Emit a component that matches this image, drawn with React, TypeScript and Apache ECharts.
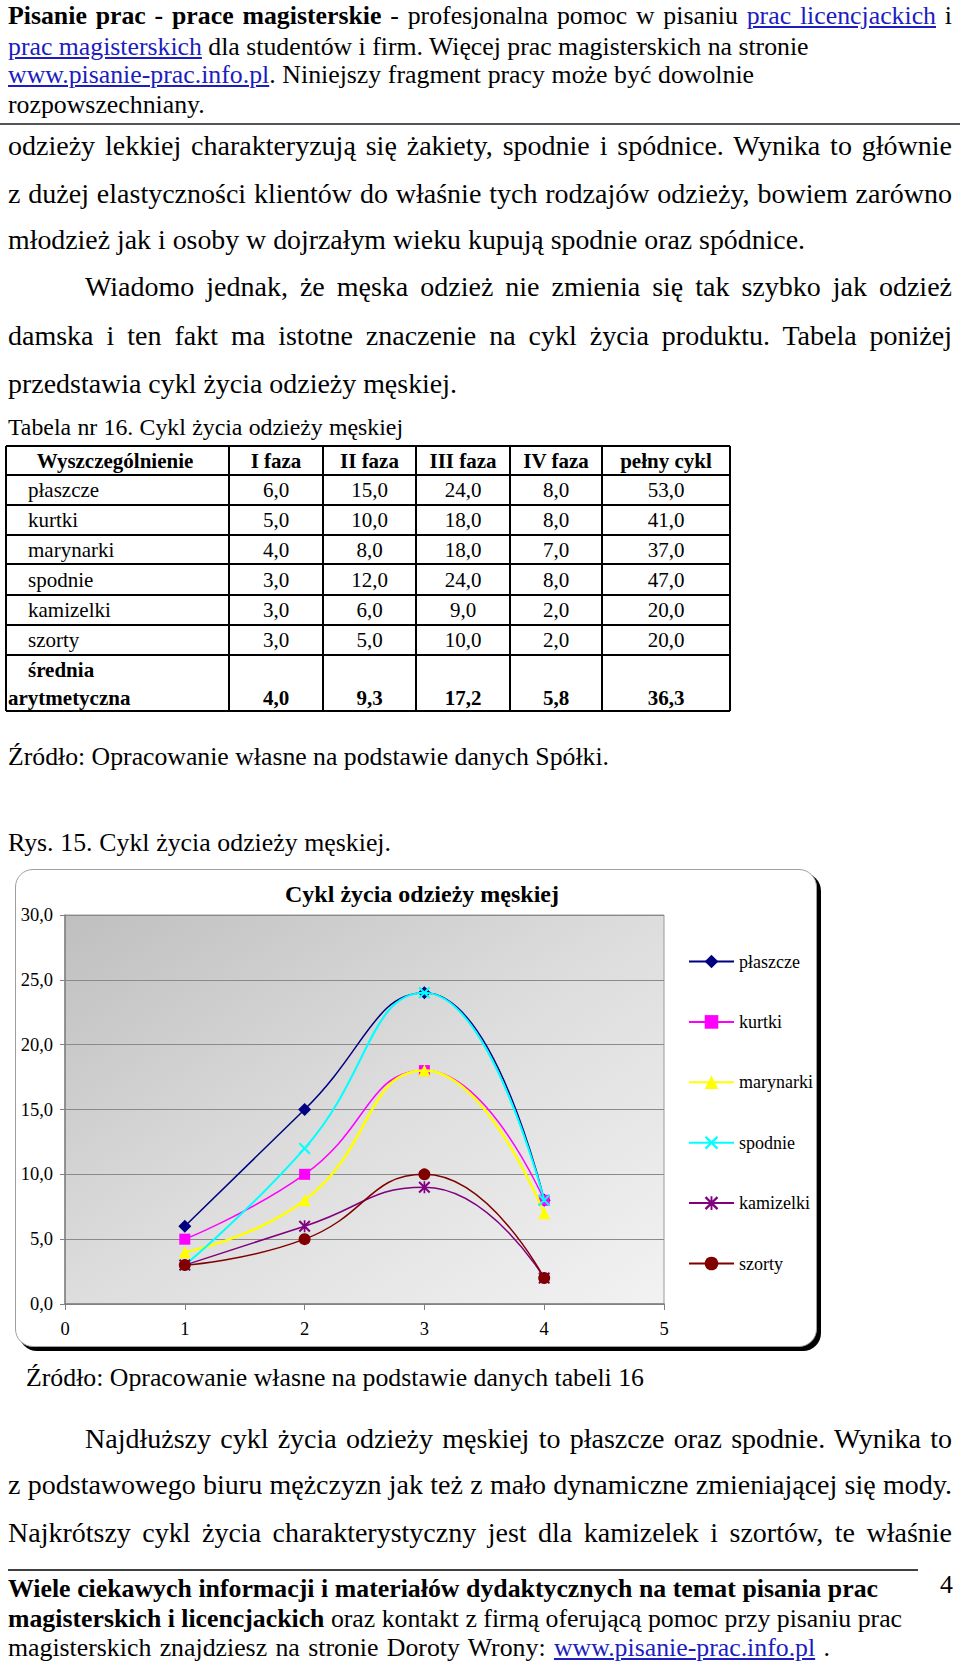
import React, { useEffect, useRef } from "react";
import * as echarts from "echarts";

// ---------- DATA ----------
const phases = [1, 2, 3, 4];
const seriesNames = ["płaszcze", "kurtki", "marynarki", "spodnie", "kamizelki", "szorty"];
const plaszcze = [6, 15, 24, 8];
const kurtki = [5, 10, 18, 8];
const marynarki = [4, 8, 18, 7];
const spodnie = [3, 12, 24, 8];
const kamizelki = [3, 6, 9, 2];
const szorty = [3, 5, 10, 2];
const fullCycle = [53, 41, 37, 47, 20, 20];
const averages = [4.0, 9.3, 17.2, 5.8, 36.3];
const tableHeaders = ["Wyszczególnienie", "I faza", "II faza", "III faza", "IV faza", "pełny cykl"];
const yTicks = { min: 0, max: 30, interval: 5 };
const xTicks = { min: 0, max: 5, interval: 1 };
const chartTitle = "Cykl życia odzieży męskiej";

const seriesValues = [plaszcze, kurtki, marynarki, spodnie, kamizelki, szorty];
const seriesColors = ["#000080", "#FF00FF", "#FFFF00", "#00FFFF", "#800080", "#800000"];
const X_PATH =
  "path://M0,1.2 L1.2,0 L5,3.8 L8.8,0 L10,1.2 L6.2,5 L10,8.8 L8.8,10 L5,6.2 L1.2,10 L0,8.8 L3.8,5 Z";
const STAR_PATH =
  "path://M0,1.2 L1.2,0 L5,3.8 L8.8,0 L10,1.2 L6.2,5 L10,8.8 L8.8,10 L5,6.2 L1.2,10 L0,8.8 L3.8,5 Z M4.3,0 L5.7,0 L5.7,10 L4.3,10 Z";
const seriesSymbols = ["diamond", "rect", "triangle", X_PATH, STAR_PATH, "circle"];
const seriesSymbolSizes = [13, 11, 12, 12, 12, 12];
const seriesLineWidths = [1.5, 1.5, 2.5, 2, 1.5, 1.5];

const SERIF =
  "'Liberation Serif', Tinos, 'Times New Roman', Times, 'Nimbus Roman', FreeSerif, serif";
const LINK = "#1c1cc0";

const fmt = (v: number) => v.toFixed(1).replace(".", ",");

// ---------- text helpers ----------
type Seg = { t: string; b?: boolean; a?: boolean };
const N = (t: string): Seg => ({ t });
const Bd = (t: string): Seg => ({ t, b: true });
const Lk = (t: string): Seg => ({ t, a: true });

let _ctx: CanvasRenderingContext2D | null = null;
function measure(segs: Seg[], size: number): number {
  if (!_ctx) _ctx = document.createElement("canvas").getContext("2d");
  if (!_ctx) return 0;
  let w = 0;
  for (const s of segs) {
    _ctx.font = `${s.b ? "bold " : ""}${size}px ${SERIF}`;
    w += _ctx.measureText(s.t).width;
  }
  return w;
}

function Line(props: { x: number; base: number; w: number; size: number; segs: Seg[] }) {
  const { x, base, w, size, segs } = props;
  const nat = measure(segs, size);
  const over = nat > w - 1;
  const style: React.CSSProperties = {
    position: "absolute",
    left: x,
    top: base - 0.8375 * size,
    fontSize: size,
    lineHeight: 1,
    fontFamily: SERIF,
    color: "#000",
  };
  if (over) {
    style.whiteSpace = "nowrap";
    style.transform = `scaleX(${w / (nat + 1)})`;
    style.transformOrigin = "0 0";
  } else {
    style.width = w;
    style.textAlign = "justify";
    (style as any).textAlignLast = "justify";
  }
  return (
    <div style={style}>
      {segs.map((s, i) =>
        s.a ? (
          <span key={i} style={{ color: LINK, textDecoration: "underline" }}>
            {s.t}
          </span>
        ) : s.b ? (
          <b key={i}>{s.t}</b>
        ) : (
          <span key={i}>{s.t}</span>
        )
      )}
    </div>
  );
}

function Chart() {
  const ref = useRef<HTMLDivElement>(null);
  useEffect(() => {
    if (!ref.current) return;
    const chart = echarts.init(ref.current, null, { renderer: "svg" });
    const series = seriesNames.map((name, i) => ({
      name,
      type: "line",
      data: phases.map((p, j) => [p, seriesValues[i][j]]),
      smooth: 0.5,
      symbol: seriesSymbols[i],
      symbolSize: seriesSymbolSizes[i],
      lineStyle: { color: seriesColors[i], width: seriesLineWidths[i] },
      itemStyle: { color: seriesColors[i] },
      z: 2 + i,
    }));
    chart.setOption({
      animation: false,
      title: {
        text: chartTitle,
        left: "center",
        top: 12,
        textStyle: { fontFamily: SERIF, fontSize: 24, fontWeight: "bold", color: "#000" },
      },
      legend: {
        orient: "vertical",
        left: 678,
        top: 87.5,
        padding: 0,
        itemWidth: 45,
        itemHeight: 17,
        itemGap: 42.4,
        data: seriesNames,
        textStyle: { fontFamily: SERIF, fontSize: 18, color: "#000", lineHeight: 17 },
      },
      grid: {
        left: 55,
        top: 50,
        width: 599,
        height: 389,
        show: true,
        borderColor: "#9a9a9a",
        borderWidth: 1,
        backgroundColor: new echarts.graphic.LinearGradient(0, 0, 1, 1, [
          { offset: 0, color: "#bfbfbf" },
          { offset: 0.5, color: "#dddddd" },
          { offset: 1, color: "#f2f2f2" },
        ]),
      },
      xAxis: {
        type: "value",
        min: xTicks.min,
        max: xTicks.max,
        interval: xTicks.interval,
        axisLine: { show: true, lineStyle: { color: "#808080", width: 1.5 } },
        axisTick: { show: true, inside: false, length: 6, lineStyle: { color: "#808080" } },
        axisLabel: { color: "#000", fontFamily: SERIF, fontSize: 18.5, margin: 15 },
        splitLine: { show: false },
      },
      yAxis: {
        type: "value",
        min: yTicks.min,
        max: yTicks.max,
        interval: yTicks.interval,
        axisLine: { show: true, lineStyle: { color: "#808080", width: 1.5 } },
        axisTick: { show: true, inside: false, length: 5, lineStyle: { color: "#808080" } },
        axisLabel: {
          color: "#000",
          fontFamily: SERIF,
          fontSize: 18.5,
          margin: 12,
          formatter: (v: number) => fmt(v),
        },
        splitLine: { show: true, lineStyle: { color: "#8a8a8a", width: 1 } },
      },
      series,
    });
    return () => chart.dispose();
  }, []);
  return (
    <div
      ref={ref}
      style={{ position: "absolute", left: 10, top: 865, width: 824, height: 495 }}
    />
  );
}

// ---------- table ----------
const colX = [6, 229, 323, 416, 510, 602, 730];
const rowY = [446, 475, 505, 535, 564, 595, 625, 655, 711];

function Table() {
  const fs = 21;
  const cx = (i: number) => (colX[i] + colX[i + 1]) / 2;
  const els: React.ReactNode[] = [];
  tableHeaders.forEach((h, i) => {
    els.push(
      <text key={"h" + i} x={i === 0 ? 115 : cx(i)} y={468} textAnchor="middle" fontWeight="bold">
        {h}
      </text>
    );
  });
  seriesNames.forEach((name, r) => {
    const base = (rowY[r + 1] + rowY[r + 2]) / 2 + 7;
    els.push(
      <text key={"l" + r} x={28} y={base}>
        {name}
      </text>
    );
    const vals = [...seriesValues[r], fullCycle[r]];
    vals.forEach((v, c) => {
      els.push(
        <text key={"v" + r + "_" + c} x={cx(c + 1)} y={base} textAnchor="middle">
          {fmt(v)}
        </text>
      );
    });
  });
  els.push(
    <text key="avg1" x={28} y={677} fontWeight="bold">
      średnia
    </text>
  );
  els.push(
    <text key="avg2" x={8} y={705} fontWeight="bold">
      arytmetyczna
    </text>
  );
  averages.forEach((v, c) => {
    els.push(
      <text key={"a" + c} x={cx(c + 1)} y={705} textAnchor="middle" fontWeight="bold">
        {fmt(v)}
      </text>
    );
  });
  return (
    <svg
      width={960}
      height={1664}
      style={{ position: "absolute", left: 0, top: 0 }}
      fontFamily={SERIF}
      fontSize={fs}
    >
      <line x1={0} y1={124} x2={960} y2={124} stroke="#555" strokeWidth={2} />
      {rowY.map((y, i) => (
        <line key={"r" + i} x1={colX[0]} y1={y} x2={colX[6]} y2={y} stroke="#000" strokeWidth={2} />
      ))}
      {colX.map((x, i) => (
        <line key={"c" + i} x1={x} y1={rowY[0]} x2={x} y2={rowY[8]} stroke="#000" strokeWidth={2} />
      ))}
      {els}
      <line x1={8} y1={1570} x2={918} y2={1570} stroke="#000" strokeWidth={1.5} />
    </svg>
  );
}

export default function App() {
  const S = 25.8; // 12pt
  const BF = 28; // 13pt body
  return (
    <div
      style={{
        position: "absolute",
        left: 0,
        top: 0,
        width: 960,
        height: 1664,
        background: "#fff",
        overflow: "hidden",
      }}
    >
      <Table />
      {/* header */}
      <Line
        x={8}
        base={25}
        w={944}
        size={S}
        segs={[
          Bd("Pisanie prac - prace magisterskie"),
          N(" - profesjonalna pomoc w pisaniu "),
          Lk("prac licencjackich"),
          N(" i"),
        ]}
      />
      <Line
        x={8}
        base={56}
        w={802}
        size={S}
        segs={[Lk("prac magisterskich"), N(" dla studentów i firm. Więcej prac magisterskich na stronie")]}
      />
      <Line
        x={8}
        base={84}
        w={746}
        size={S}
        segs={[Lk("www.pisanie-prac.info.pl"), N(". Niniejszy fragment pracy może być dowolnie")]}
      />
      <Line x={8} base={114} w={201} size={S} segs={[N("rozpowszechniany.")]} />
      {/* body */}
      <Line
        x={8}
        base={155}
        w={944}
        size={BF}
        segs={[N("odzieży lekkiej charakteryzują się żakiety, spodnie i spódnice. Wynika to głównie")]}
      />
      <Line
        x={8}
        base={203}
        w={944}
        size={BF}
        segs={[N("z dużej elastyczności klientów do właśnie tych rodzajów odzieży, bowiem zarówno")]}
      />
      <Line
        x={8}
        base={249}
        w={798}
        size={BF}
        segs={[N("młodzież jak i osoby w dojrzałym wieku kupują spodnie oraz spódnice.")]}
      />
      <Line
        x={85}
        base={296}
        w={867}
        size={BF}
        segs={[N("Wiadomo jednak, że męska odzież nie zmienia się tak szybko jak odzież")]}
      />
      <Line
        x={8}
        base={345}
        w={944}
        size={BF}
        segs={[N("damska i ten fakt ma istotne znaczenie na cykl życia produktu. Tabela poniżej")]}
      />
      <Line x={8} base={393} w={450} size={BF} segs={[N("przedstawia cykl życia odzieży męskiej.")]} />
      <Line x={8} base={436} w={395} size={23.8} segs={[N("Tabela nr 16. Cykl życia odzieży męskiej")]} />
      <Line
        x={8}
        base={766}
        w={602}
        size={S}
        segs={[N("Źródło: Opracowanie własne na podstawie danych Spółki.")]}
      />
      <Line x={8} base={852} w={383} size={S} segs={[N("Rys. 15. Cykl życia odzieży męskiej.")]} />
      {/* chart frame */}
      <div
        style={{
          position: "absolute",
          left: 15,
          top: 869,
          width: 800,
          height: 476,
          border: "1.5px solid #a0a0a0",
          borderRadius: 18,
          boxShadow: "4px 4px 0 #000",
          background: "#fff",
        }}
      />
      <Chart />
      <Line
        x={26}
        base={1387}
        w={619}
        size={S}
        segs={[N("Źródło: Opracowanie własne na podstawie danych tabeli 16")]}
      />
      <Line
        x={85}
        base={1448}
        w={867}
        size={BF}
        segs={[N("Najdłuższy cykl życia odzieży męskiej to płaszcze oraz spodnie. Wynika to")]}
      />
      <Line
        x={8}
        base={1494}
        w={944}
        size={BF}
        segs={[N("z podstawowego biuru mężczyzn jak też z mało dynamiczne zmieniającej się mody.")]}
      />
      <Line
        x={8}
        base={1542}
        w={944}
        size={BF}
        segs={[N("Najkrótszy cykl życia charakterystyczny jest dla kamizelek i szortów, te właśnie")]}
      />
      {/* footer */}
      <Line
        x={8}
        base={1598}
        w={870}
        size={S}
        segs={[Bd("Wiele ciekawych informacji i materiałów dydaktycznych na temat pisania prac")]}
      />
      <Line
        x={8}
        base={1628}
        w={895}
        size={S}
        segs={[
          Bd("magisterskich i licencjackich"),
          N(" oraz kontakt z firmą oferującą pomoc przy pisaniu prac"),
        ]}
      />
      <Line
        x={8}
        base={1657}
        w={822}
        size={S}
        segs={[N("magisterskich znajdziesz na stronie Doroty Wrony: "), Lk("www.pisanie-prac.info.pl"), N(" .")]}
      />
      <div
        style={{
          position: "absolute",
          left: 940,
          top: 1594 - 0.8375 * S,
          fontSize: S,
          lineHeight: 1,
          fontFamily: SERIF,
        }}
      >
        4
      </div>
    </div>
  );
}
